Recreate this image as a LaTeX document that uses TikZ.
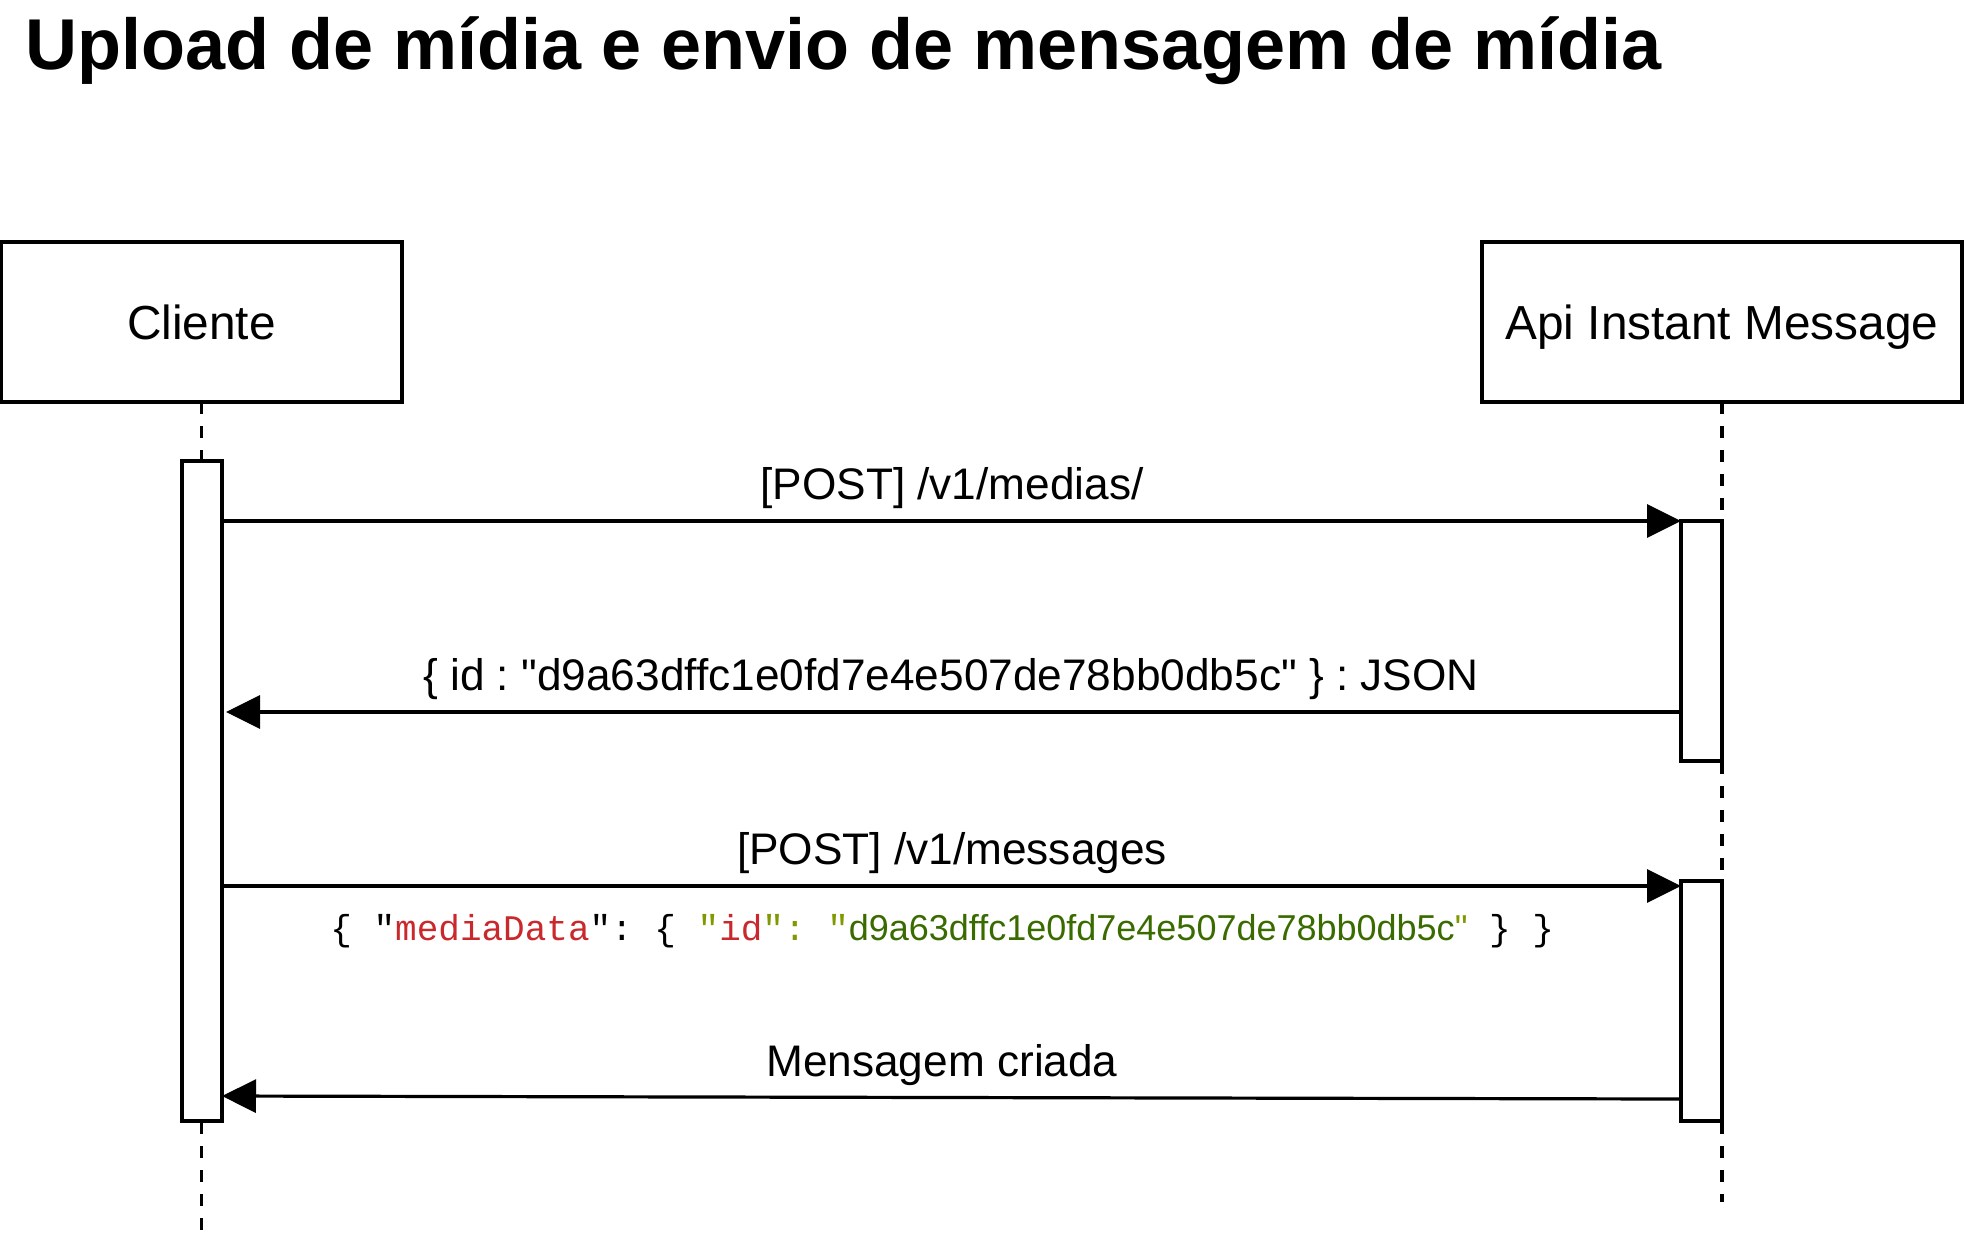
\documentclass[tikz,border=0pt]{standalone}
\usepackage{fontspec}
\setmainfont{Liberation Sans}[Ligatures=TeXOff]
\setmonofont{Liberation Mono}
\usepackage{xcolor}
\usepackage{tikz}
\usetikzlibrary{arrows.meta,positioning,calc}
\definecolor{jsonkey}{RGB}{201,40,44}
\definecolor{jsonpunct}{RGB}{128,153,0}
\definecolor{jsonstr}{RGB}{58,107,0}
\frenchspacing

\begin{document}
\begin{tikzpicture}[
    x=0.5pt, y=-0.5pt,
    actor/.style={draw, line width=2pt, minimum height=80pt, inner sep=0pt, outer sep=0pt, text depth=0pt, font=\fontsize{23.9}{28}\selectfont},
    lifeline/.style={line width=1.6pt, dash pattern=on 6pt off 6pt},
    activation/.style={draw, fill=white, line width=2pt, minimum width=20pt, inner sep=0pt, outer sep=0pt},
    msg/.style={-{Triangle[length=17pt, width=16.5pt]}, line width=1.6pt},
    lbl/.style={anchor=base, inner sep=0pt, font=\fontsize{22.1}{26}\selectfont}
]
\useasboundingbox (0,0) rectangle (1964,1244);

\node[anchor=base west, inner sep=0pt, font=\fontsize{36}{40}\selectfont\bfseries] (title) at (25,69) {Upload de mídia e envio de mensagem de mídia};

% participants
\node[actor, minimum width=200.5pt] (cliente) at (201.5,322) {Cliente};
\node[actor, minimum width=240pt] (api) at (1722,322) {Api Instant Message};
\coordinate (clienteEnd) at (201.5,1230);
\coordinate (apiEnd) at (1722,1202);
\draw[lifeline] (cliente.south) -- (clienteEnd);
\draw[lifeline] (api.south) -- (apiEnd);

% activations
\node[activation, minimum height=330pt] (actCliente) at (202,791) {};
\node[activation, minimum width=20.5pt, minimum height=120pt] (actApi1) at (1701.5,641) {};
\node[activation, minimum width=20.5pt, minimum height=120pt] (actApi2) at (1701.5,1001) {};

% messages
\draw[msg] (actCliente.east |- actApi1.north) -- (actApi1.north west);
\draw[msg, shorten >=2pt] (actApi1.west |- 0,712) -- (actCliente.east |- 0,712);
\draw[msg] (actCliente.east |- 0,886) -- (actApi2.west |- 0,886);
\draw[msg] (actApi2.west |- 0,1099) -- (actCliente.east |- 0,1096);

\node[lbl] (medias) at (952,499) {[POST] /v1/medias/};
\node[lbl] (mediaId) at (951,690) {\{ id : "d9a63dffc1e0fd7e4e507de78bb0db5c" \} : JSON};
\node[lbl] (messages) at (952,864) {[POST] /v1/messages};
\node[anchor=base west, inner sep=0pt, font=\fontsize{18}{22}\selectfont\ttfamily] (payload) at (330,940)
    {\{ "{\color{jsonkey}mediaData}": \{ {\color{jsonpunct}"}{\color{jsonkey}id}{\color{jsonpunct}": "}{\color{jsonstr}\rmfamily d9a63dffc1e0fd7e4e507de78bb0db5c}{\color{jsonpunct}\rmfamily "} \} \}};
\node[lbl] (criada) at (942,1076) {Mensagem criada};
\end{tikzpicture}
\end{document}
